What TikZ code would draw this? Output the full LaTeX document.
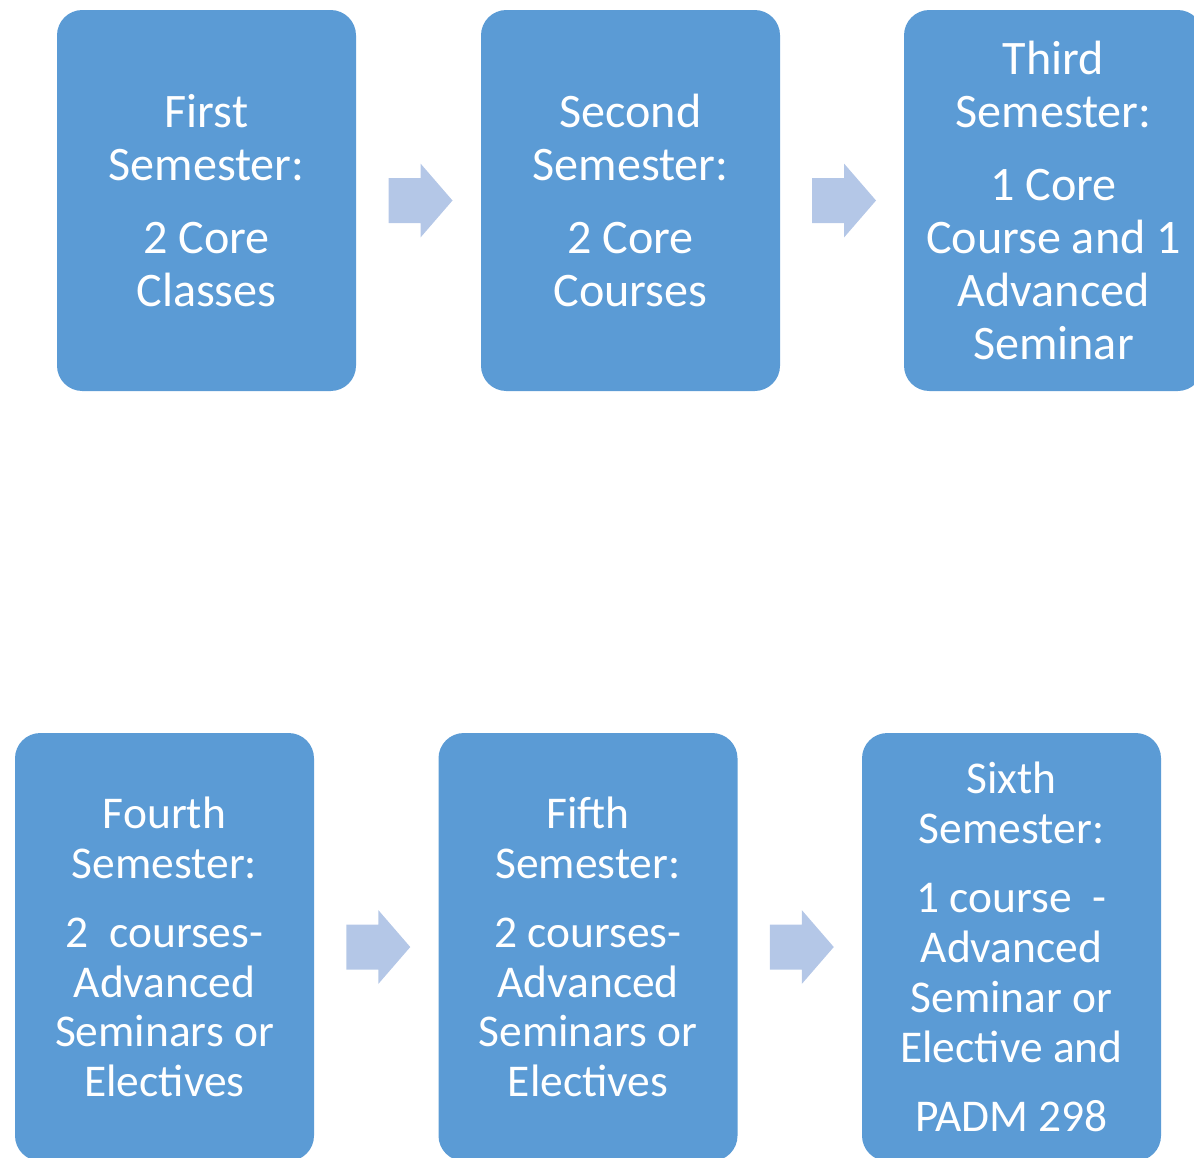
\documentclass[tikz,border=0pt]{standalone}
\usepackage{fontspec}
\setmainfont{Carlito}
\usepackage{xcolor}
\usepackage{tikz}
\usetikzlibrary{calc}

\definecolor{boxblue}{RGB}{91,155,213}
\definecolor{arrowblue}{RGB}{180,199,231}

\begin{document}
\begin{tikzpicture}[x=0.75pt,y=0.75pt,yscale=-1,xscale=1,
   semtop/.style={rectangle, rounded corners=19pt, fill=boxblue, draw=none, text=white, align=center,
      minimum width=224.25pt, minimum height=285.75pt, inner sep=0pt,
      font=\fontsize{36.1}{39.75}\selectfont},
   sembot/.style={semtop, minimum height=321pt, font=\fontsize{34.1}{37.3}\selectfont},
   blockarrow/.style={fill=arrowblue, draw=none}]
   %set diagram size, 1194 by 1157
   \useasboundingbox (0,0) rectangle (1194,1157);
   \clip (0,0) rectangle (1194,1157);

   % Top row
   \node [semtop] (first) at (206.5,200.5) {First\\Semester:\\[15pt]2 Core\\Classes};
   \node [semtop] (second) at (630.5,200.5) {Second\\Semester:\\[15pt]2 Core\\Courses};
   \node [semtop] (third) at (1053.5,200.5) {Third\\Semester:\\[15pt]1 Core\\Course and 1\\Advanced\\Seminar};

   % Bottom row
   \node [sembot] (fourth) at (164.5,947) {Fourth\\Semester:\\[14.6pt]2\ \ courses-\\Advanced\\Seminars or\\Electives};
   \node [sembot] (fifth) at (588,947) {Fifth\\Semester:\\[14.6pt]2 courses-\\Advanced\\Seminars or\\Electives};
   \node [sembot] (sixth) at (1011.5,947) {Sixth\\Semester:\\[14.6pt]1 course\ \ -\\Advanced\\Seminar or\\Elective and\\[14.6pt]PADM 298};

   %Shape: Right Arrows
   \draw [blockarrow] ($(first.east)!0.5!(second.west)$) ++(-30,-22.5) -- ++(32,0) -- ++(0,-14.5) -- ++(32,37) -- ++(-32,37) -- ++(0,-14.5) -- ++(-32,0) -- cycle ;
   \draw [blockarrow] ($(second.east)!0.5!(third.west)$) ++(-30,-22.5) -- ++(32,0) -- ++(0,-14.5) -- ++(32,37) -- ++(-32,37) -- ++(0,-14.5) -- ++(-32,0) -- cycle ;
   \draw [blockarrow] ($(fourth.east)!0.5!(fifth.west)$) ++(-30,-22.5) -- ++(32,0) -- ++(0,-14.5) -- ++(32,37) -- ++(-32,37) -- ++(0,-14.5) -- ++(-32,0) -- cycle ;
   \draw [blockarrow] ($(fifth.east)!0.5!(sixth.west)$) ++(-30,-22.5) -- ++(32,0) -- ++(0,-14.5) -- ++(32,37) -- ++(-32,37) -- ++(0,-14.5) -- ++(-32,0) -- cycle ;

\end{tikzpicture}
\end{document}
